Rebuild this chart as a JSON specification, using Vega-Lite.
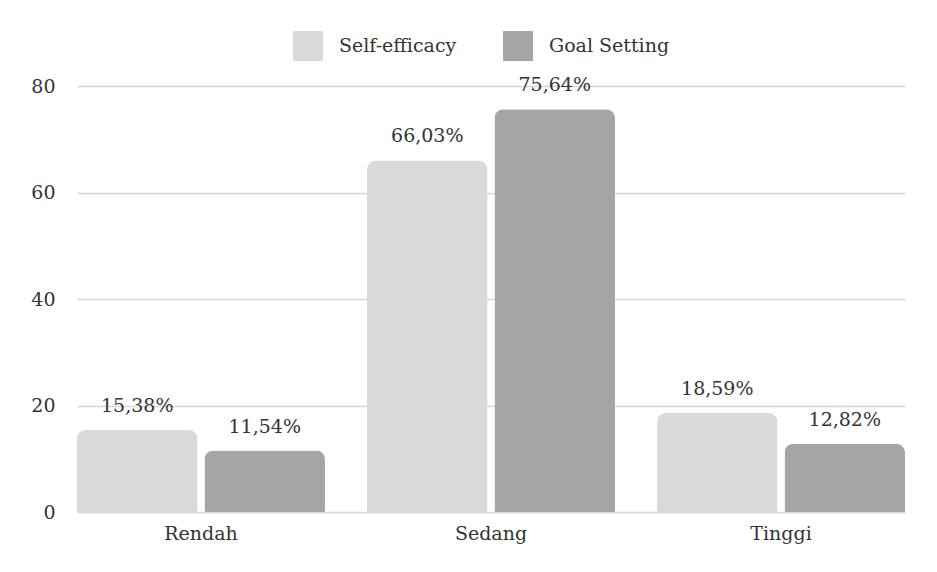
{
  "$schema": "https://vega.github.io/schema/vega-lite/v6.json",
  "autosize": "none",
  "width": 828,
  "height": 426,
  "padding": {"left": 77, "top": 86, "right": 32, "bottom": 60},
  "background": "white",
  "config": {
    "font": "DejaVu Serif",
    "view": {"stroke": null},
    "axis": {"labelFont": "DejaVu Serif", "labelColor": "#333333", "labelFontSize": 19},
    "legend": {"labelFont": "DejaVu Serif"},
    "text": {"font": "DejaVu Serif"}
  },
  "data": {
    "values": [
      {"kategori": "Rendah", "variabel": "Self-efficacy", "nilai": 15.38, "label": "15,38%"},
      {"kategori": "Rendah", "variabel": "Goal Setting", "nilai": 11.54, "label": "11,54%"},
      {"kategori": "Sedang", "variabel": "Self-efficacy", "nilai": 66.03, "label": "66,03%"},
      {"kategori": "Sedang", "variabel": "Goal Setting", "nilai": 75.64, "label": "75,64%"},
      {"kategori": "Tinggi", "variabel": "Self-efficacy", "nilai": 18.59, "label": "18,59%"},
      {"kategori": "Tinggi", "variabel": "Goal Setting", "nilai": 12.82, "label": "12,82%"}
    ]
  },
  "encoding": {
    "x": {
      "field": "kategori",
      "type": "nominal",
      "sort": ["Rendah", "Sedang", "Tinggi"],
      "scale": {"paddingInner": 0.145, "paddingOuter": 0},
      "axis": {"title": null, "labelAngle": 0, "domain": false, "ticks": false, "labelPadding": 12}
    },
    "xOffset": {
      "field": "variabel",
      "type": "nominal",
      "sort": ["Self-efficacy", "Goal Setting"],
      "scale": {"paddingInner": 0.055, "paddingOuter": 0}
    },
    "y": {
      "field": "nilai",
      "type": "quantitative",
      "scale": {"domain": [0, 80], "nice": false},
      "axis": {
        "title": null,
        "values": [0, 20, 40, 60, 80],
        "domain": false,
        "ticks": false,
        "labelPadding": 22,
        "gridColor": "#d6d6d6",
        "gridWidth": 1.5
      }
    }
  },
  "layer": [
    {
      "mark": {"type": "bar", "cornerRadiusTopLeft": 9, "cornerRadiusTopRight": 9},
      "encoding": {
        "color": {
          "field": "variabel",
          "type": "nominal",
          "sort": ["Self-efficacy", "Goal Setting"],
          "scale": {"domain": ["Self-efficacy", "Goal Setting"], "range": ["#d9d9d9", "#a5a5a5"]},
          "legend": {
            "title": null,
            "orient": "none",
            "direction": "horizontal",
            "legendX": 216,
            "legendY": -55,
            "symbolType": "square",
            "symbolSize": 900,
            "symbolStrokeWidth": 0,
            "labelFontSize": 19,
            "labelColor": "#333333",
            "labelOffset": 16,
            "columnPadding": 46
          }
        }
      }
    },
    {
      "mark": {"type": "text", "baseline": "bottom", "dy": -14, "fontSize": 19, "color": "#333333"},
      "encoding": {"text": {"field": "label"}}
    }
  ]
}
